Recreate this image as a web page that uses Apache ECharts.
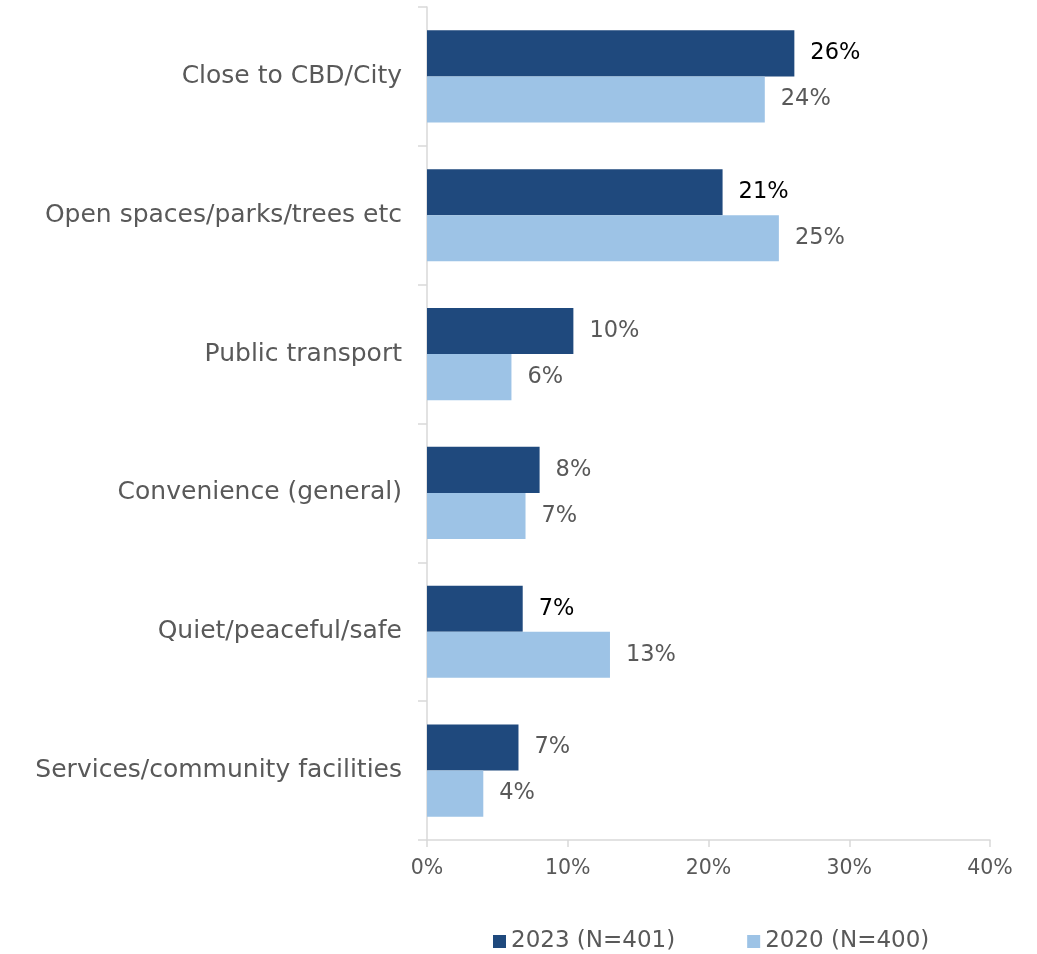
<!DOCTYPE html>
<html>
<head>
<meta charset="utf-8">
<script src="https://cdn.jsdelivr.net/npm/echarts@6/dist/echarts.min.js"></script>
<style>
html,body{margin:0;padding:0;background:#fff;}
#chart{width:1037px;height:954px;}
</style>
</head>
<body>
<div id="chart"></div>
<script>
const categories = ["Close to CBD/City","Open spaces/parks/trees etc","Public transport","Convenience (general)","Quiet/peaceful/safe","Services/community facilities"];
const values2023 = [26.1, 21.0, 10.4, 8.0, 6.8, 6.5];
const values2020 = [24.0, 25.0, 6.0, 7.0, 13.0, 4.0];
const seriesNames = ["2023 (N=401)", "2020 (N=400)"];
const xTicks = [0, 10, 20, 30, 40];

const darkBlue = "#1F497D";
const lightBlue = "#9DC3E6";
const gray = "#595959";
const blackLabelIdx2023 = [0, 1, 4];
const FONT = "DejaVu Sans";

function mk(vals, blackIdx) {
  return vals.map((v, i) => ({
    value: v,
    label: { color: blackIdx.includes(i) ? "#000000" : gray }
  }));
}

const chart = echarts.init(document.getElementById('chart'));
chart.setOption({
  animation: false,
  textStyle: { fontFamily: FONT },
  grid: { left: 427, right: 47, top: 7, bottom: 114, containLabel: false },
  legend: {
    top: 925,
    left: 488,
    itemWidth: 13,
    itemHeight: 13,
    itemGap: 72,
    icon: 'rect',
    textStyle: { fontFamily: FONT, fontSize: 23, color: gray },
    data: seriesNames
  },
  xAxis: {
    type: 'value',
    min: xTicks[0],
    max: xTicks[xTicks.length - 1],
    interval: 10,
    axisLine: { show: true, lineStyle: { color: '#D9D9D9', width: 1.5 } },
    axisTick: { show: true, length: 7, lineStyle: { color: '#D9D9D9', width: 1.5 } },
    splitLine: { show: false },
    axisLabel: { formatter: v => v + '%', color: gray, fontSize: 20.5, fontFamily: FONT, margin: 18 }
  },
  yAxis: {
    type: 'category',
    data: categories,
    inverse: true,
    axisLine: { show: true, lineStyle: { color: '#D9D9D9', width: 1.5 } },
    axisTick: { show: true, length: 9, lineStyle: { color: '#D9D9D9', width: 1.5 } },
    axisLabel: { color: gray, fontSize: 25, fontFamily: FONT, margin: 25 }
  },
  series: [
    {
      name: seriesNames[0],
      type: 'bar',
      data: mk(values2023, blackLabelIdx2023),
      itemStyle: { color: darkBlue },
      barGap: '0%',
      barCategoryGap: '33.6%',
      label: { show: true, position: 'right', distance: 16, fontSize: 22.5, fontFamily: FONT,
        formatter: p => Math.round(p.value) + '%' }
    },
    {
      name: seriesNames[1],
      type: 'bar',
      data: mk(values2020, []),
      itemStyle: { color: lightBlue },
      barGap: '0%',
      barCategoryGap: '33.6%',
      label: { show: true, position: 'right', distance: 16, fontSize: 22.5, fontFamily: FONT,
        formatter: p => Math.round(p.value) + '%' }
    }
  ]
});
</script>
</body>
</html>
